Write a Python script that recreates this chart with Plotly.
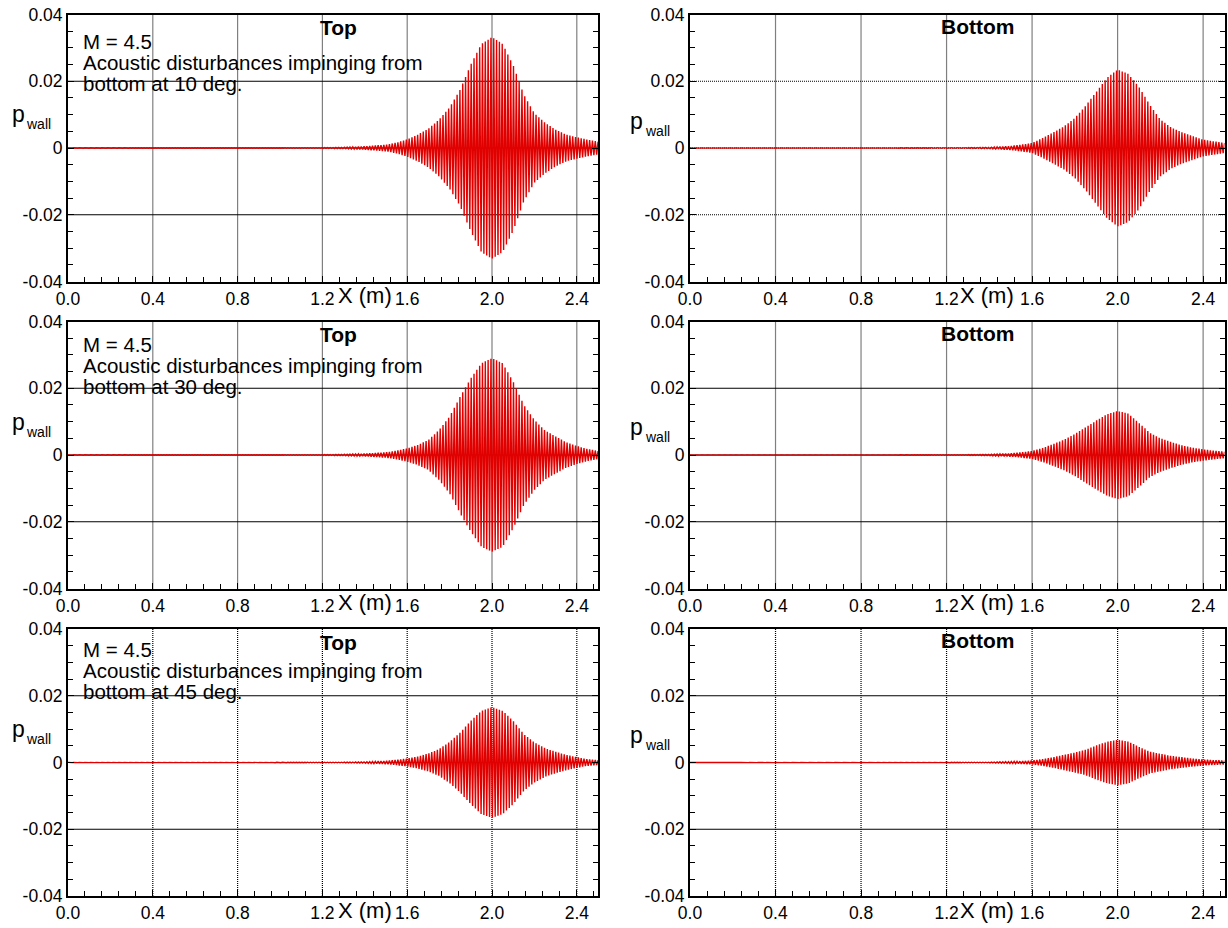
import numpy as np
import plotly.graph_objects as go

# ---------------- data ----------------
X_TICKS = [0.0, 0.4, 0.8, 1.2, 1.6, 2.0, 2.4]
X_TICK_LABELS = ["0.0", "0.4", "0.8", "1.2", "1.6", "2.0", "2.4"]
Y_TICKS = [-0.04, -0.02, 0.0, 0.02, 0.04]
Y_TICK_LABELS = ["-0.04", "-0.02", "0", "0.02", "0.04"]

# x positions (m) where the oscillation envelope was read
ENV_X = [0.0, 1.0, 1.2, 1.3, 1.4, 1.5, 1.55, 1.6, 1.65, 1.7, 1.75, 1.8, 1.85,
         1.9, 1.95, 2.0, 2.05, 2.1, 2.15, 2.2, 2.25, 2.3, 2.35, 2.4, 2.45, 2.5]

# envelope amplitude of p_wall, one list per panel
ENV_TOP_10 = [0.00005, 0.00008, 0.0001, 0.0002, 0.0005, 0.001, 0.0016, 0.0026, 0.004,
              0.0058, 0.0085, 0.0122, 0.0175, 0.025, 0.0312, 0.0332, 0.0312, 0.0248,
              0.016, 0.0104, 0.0076, 0.0055, 0.004, 0.0032, 0.0025, 0.0019]
ENV_BOTTOM_10 = [0.00003, 0.00005, 0.0001, 0.0001, 0.0002, 0.0006, 0.001, 0.0015, 0.003,
                 0.0047, 0.0065, 0.009, 0.0126, 0.0168, 0.021, 0.0235, 0.0222, 0.0183,
                 0.013, 0.0085, 0.0062, 0.0047, 0.0036, 0.0025, 0.002, 0.0015]
ENV_TOP_30 = [0.00005, 0.00008, 0.0001, 0.0002, 0.0004, 0.0008, 0.0013, 0.002, 0.003,
              0.0045, 0.0075, 0.0115, 0.0175, 0.023, 0.0275, 0.029, 0.0275, 0.022,
              0.015, 0.0105, 0.0073, 0.0056, 0.0038, 0.0027, 0.0018, 0.0012]
ENV_BOTTOM_30 = [0.00003, 0.00005, 0.0001, 0.0001, 0.0002, 0.0005, 0.0008, 0.0012, 0.0021,
                 0.0033, 0.0046, 0.0063, 0.0083, 0.0103, 0.0122, 0.0132, 0.0124, 0.0096,
                 0.0067, 0.005, 0.0039, 0.0029, 0.0022, 0.0017, 0.0013, 0.001]
ENV_TOP_45 = [0.00003, 0.00005, 0.0001, 0.0001, 0.0002, 0.0005, 0.0008, 0.0012, 0.0018,
              0.0027, 0.004, 0.0062, 0.009, 0.0125, 0.0155, 0.0166, 0.0155, 0.0125,
              0.0085, 0.006, 0.0043, 0.0032, 0.0023, 0.0016, 0.001, 0.0007]
ENV_BOTTOM_45 = [0.00002, 0.00003, 0.00005, 0.0001, 0.0001, 0.0003, 0.0004, 0.0006, 0.001,
                 0.0016, 0.0023, 0.003, 0.0038, 0.0051, 0.0062, 0.0068, 0.0063, 0.0047,
                 0.0033, 0.0026, 0.002, 0.0016, 0.0012, 0.0009, 0.0007, 0.0006]

WAVE_PERIOD = 0.0133  # spacing of the oscillation stripes (m)

ANGLES = ["10", "30", "45"]
SIDES = ["Top", "Bottom"]
ENVS = [[ENV_TOP_10, ENV_BOTTOM_10],
        [ENV_TOP_30, ENV_BOTTOM_30],
        [ENV_TOP_45, ENV_BOTTOM_45]]

# ---------------- layout helpers ----------------
W, H = 1228, 928
FONT = "Liberation Sans, Arial, Helvetica, sans-serif"
RED = "rgb(225,0,0)"


def px(x):
    return x / W


def py(y):
    return 1 - y / H


COL_X = [(68, 598), (690, 1224.5)]
ROW_Y = [(14.5, 281.5), (321.5, 588.5), (629, 896)]

fig = go.Figure()
layout = dict(
    template="none",
    width=W, height=H,
    margin=dict(l=0, r=0, t=0, b=0, pad=0, autoexpand=False),
    paper_bgcolor="white", plot_bgcolor="white",
    showlegend=False,
    font=dict(family=FONT, color="black"),
)
shapes = []
annotations = []

xs_half = np.arange(int(round(2.5 / (WAVE_PERIOD / 2))) + 1) * (WAVE_PERIOD / 2)
signs = np.where(np.arange(len(xs_half)) % 2 == 0, 1.0, -1.0)


def text_ann(text, x, y, size, xanchor="left", bold=False):
    return dict(text=f"<b>{text}</b>" if bold else text, x=px(x), y=py(y),
                xref="paper", yref="paper", xanchor=xanchor, yanchor="middle",
                showarrow=False, borderpad=0,
                font=dict(size=size, family=FONT, color="black"))


idx = 0
for r in range(3):
    for c in range(2):
        idx += 1
        xname = "x" if idx == 1 else f"x{idx}"
        yname = "y" if idx == 1 else f"y{idx}"
        xkey = "xaxis" if idx == 1 else f"xaxis{idx}"
        ykey = "yaxis" if idx == 1 else f"yaxis{idx}"
        x0, x1 = COL_X[c]
        ytop, ybot = ROW_Y[r]

        env = ENVS[r][c]
        amp = np.interp(xs_half, ENV_X, env)
        fig.add_trace(go.Scatter(
            x=xs_half, y=amp * signs, mode="lines",
            line=dict(color=RED, width=1.4), xaxis=xname, yaxis=yname,
            hoverinfo="skip"))

        layout[xkey] = dict(
            domain=[px(x0), px(x1)], anchor=yname, range=[0, 2.5],
            automargin=False,
            tickmode="array", tickvals=X_TICKS, ticktext=X_TICK_LABELS,
            ticks="inside", ticklen=6, tickwidth=1, tickcolor="black",
            showline=True, linecolor="black", linewidth=2, mirror=True,
            showgrid=False, zeroline=False,
            tickfont=dict(size=17.5, color="black", family=FONT),
            minor=dict(tick0=0, dtick=0.08, ticks="inside", ticklen=5,
                       tickcolor="black", tickwidth=1, showgrid=False),
        )
        layout[ykey] = dict(
            domain=[py(ybot), py(ytop)], anchor=xname, range=[-0.04, 0.04],
            automargin=False,
            tickmode="array", tickvals=Y_TICKS, ticktext=Y_TICK_LABELS,
            ticks="inside", ticklen=6, tickwidth=1, tickcolor="black",
            showline=True, linecolor="black", linewidth=2, mirror="ticks",
            showgrid=False, zeroline=False,
            tickfont=dict(size=17.5, color="black", family=FONT),
            minor=dict(tick0=0, dtick=0.005, ticks="inside", ticklen=5,
                       tickcolor="black", tickwidth=1, showgrid=False),
        )

        # grid lines (beneath the signal)
        for v in X_TICKS[1:]:
            shapes.append(dict(type="line", xref=xname, yref=f"{yname} domain",
                               x0=v, x1=v, y0=0, y1=1, layer="below",
                               line=dict(color="black", width=1.2, dash="1px,1px")))
        hdash = "1px,1px" if (r == 0 and c == 1) else "solid"
        for v in Y_TICKS[1:-1]:
            shapes.append(dict(type="line", xref=f"{xname} domain", yref=yname,
                               x0=0, x1=1, y0=v, y1=v, layer="below",
                               line=dict(color="black", width=1, dash=hdash)))

        # axis titles
        annotations.append(text_ann("X (m)", x0 + 296.5, ybot + 14, 22, "center"))
        dy = 6 * c
        annotations.append(text_ann("p", x0 - 57.5 - 3 * c, ytop + 100 + dy, 23))
        annotations.append(text_ann("wall", x0 - 43.5 - 3 * c, ytop + 110 + dy, 14))
        # panel titles
        if c == 0:
            annotations.append(text_ann(SIDES[c], x0 + 270, ytop + 13.5, 21, "center", bold=True))
        else:
            annotations.append(text_ann(SIDES[c], x0 + 287, ytop + 11.5, 21, "center", bold=True))

        if c == 0:
            lines = ["M = 4.5", "Acoustic disturbances impinging from",
                     f"bottom at {ANGLES[r]} deg."]
            first = [41.5 - 14.5, 344.5 - 321.5, 649.5 - 629][r]
            for k, t in enumerate(lines):
                annotations.append(text_ann(t, x0 + 14, ytop + first + 21 * k, 20.5))

layout["shapes"] = shapes
layout["annotations"] = annotations
fig.update_layout(**layout)
fig.write_html("out.html")
